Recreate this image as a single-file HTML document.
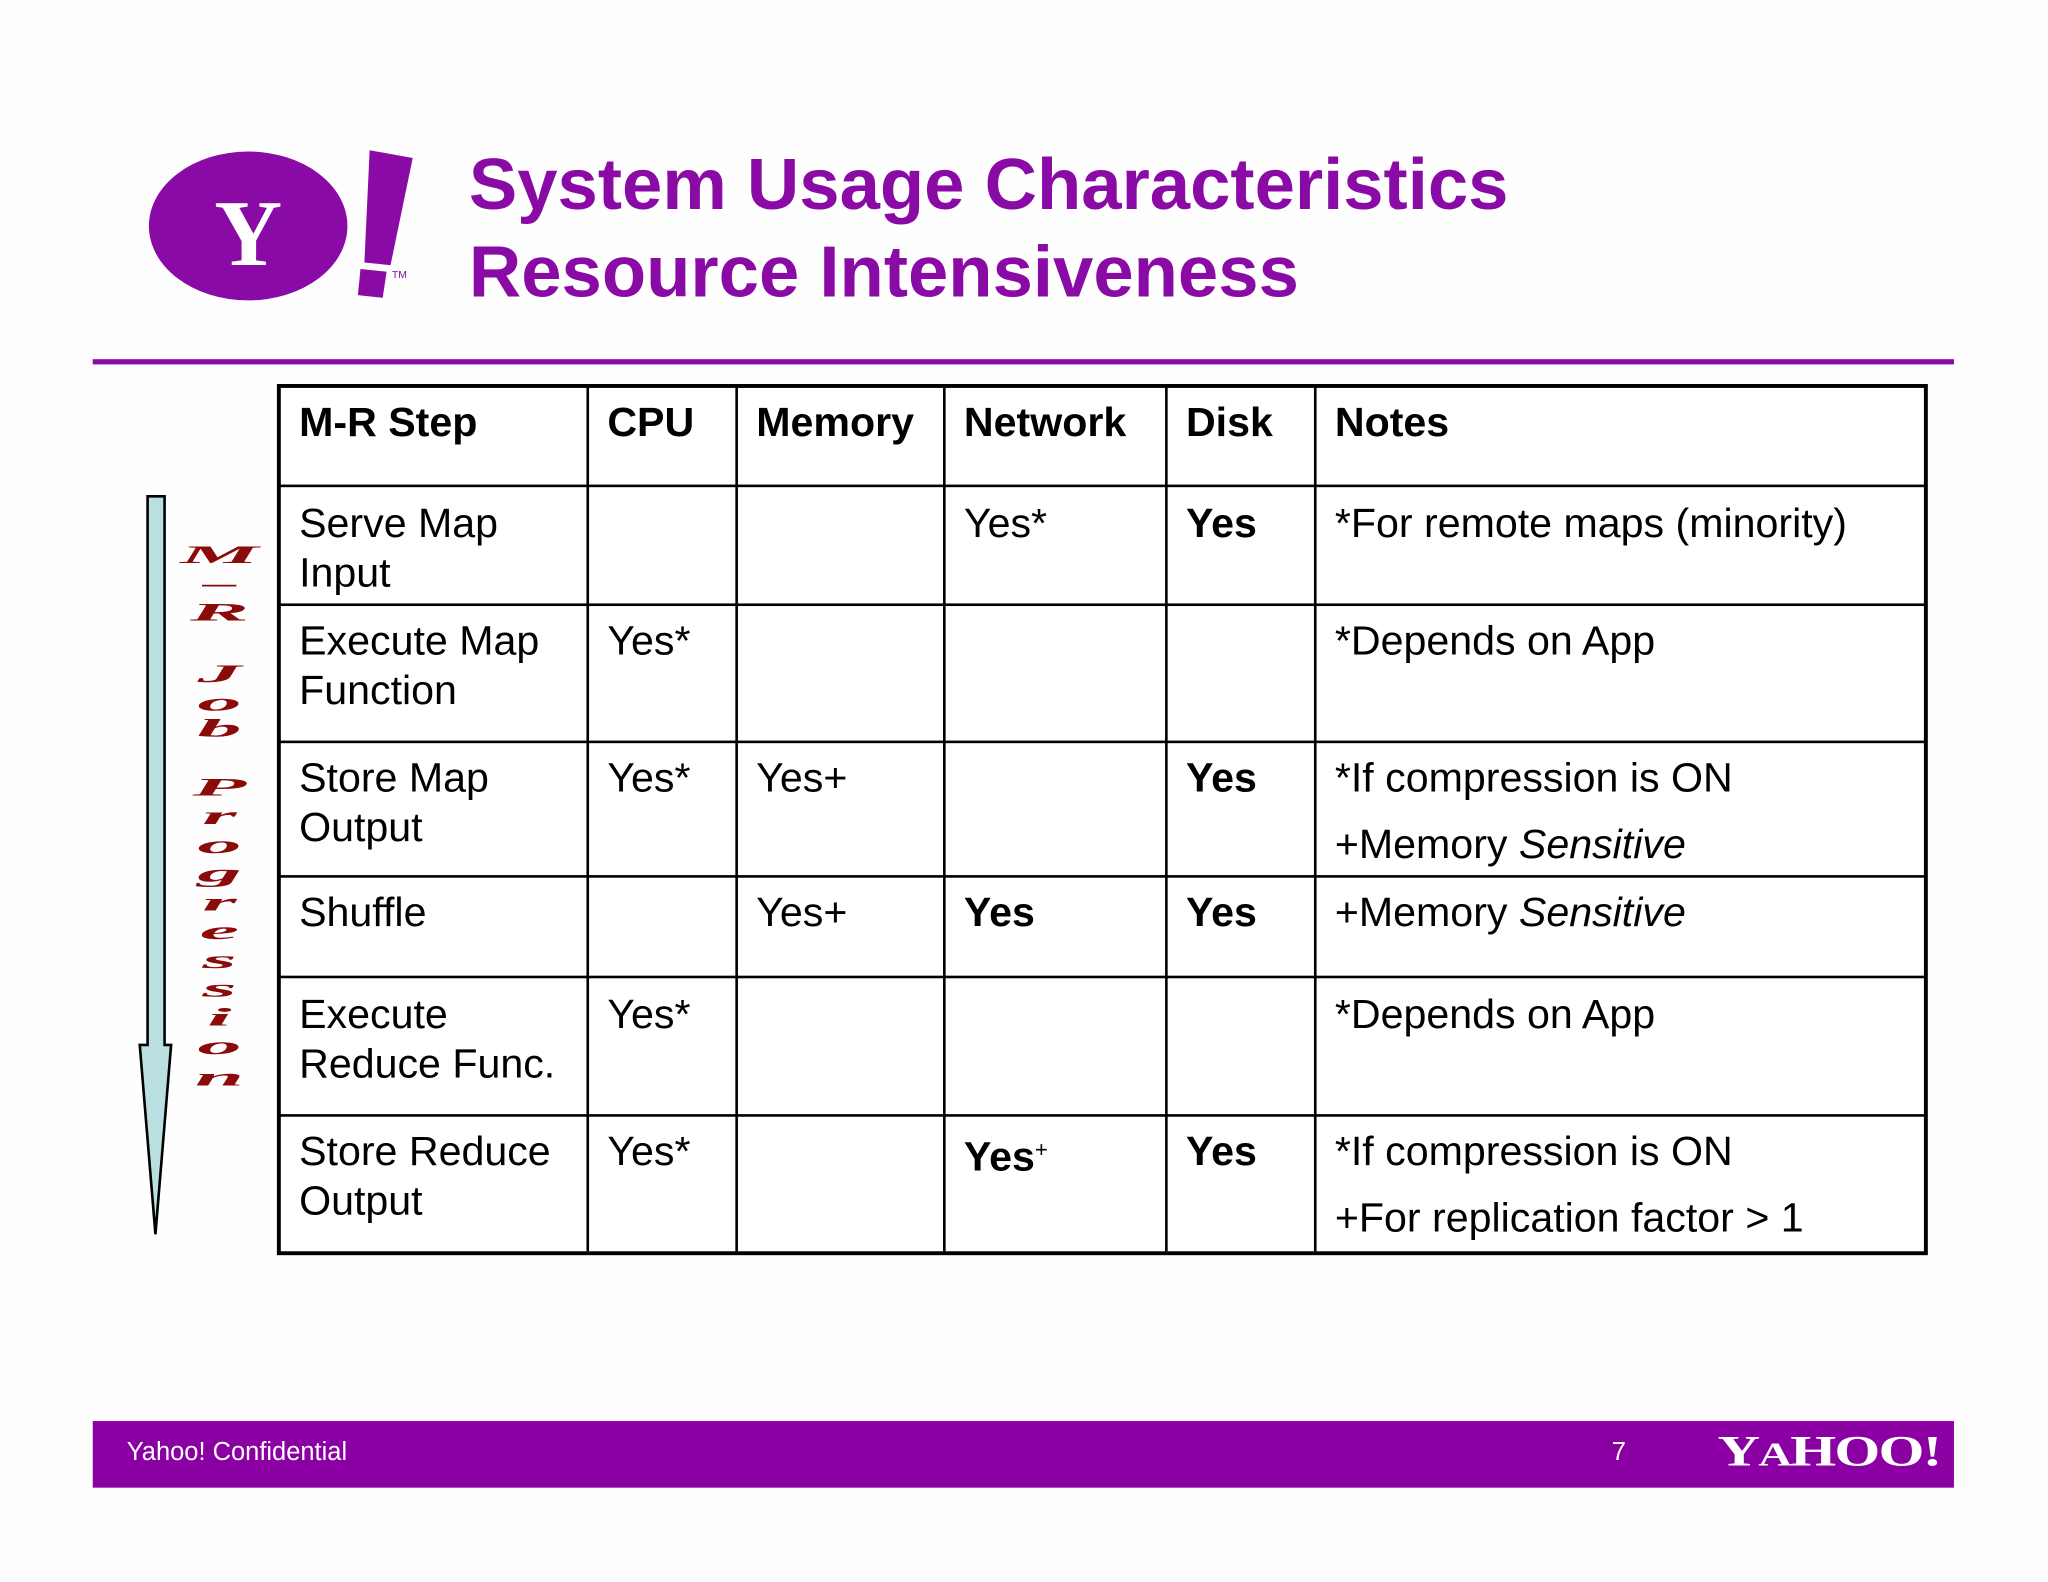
<!DOCTYPE html>
<html><head><meta charset="utf-8"><style>
html,body{margin:0;padding:0;background:#fff;}
#page{position:relative;width:1568px;height:1211px;transform:scale(1.30612);transform-origin:0 0;background:#fefefe;font-family:"Liberation Sans",Arial,sans-serif;overflow:hidden;}
.abs{position:absolute;}
.title{position:absolute;left:359px;color:#8a0aa5;font-weight:bold;font-size:55.5px;line-height:66px;white-space:nowrap;}
.vl{position:absolute;background:#000;width:2px;}
.hl{position:absolute;background:#000;height:2px;}
.cell{position:absolute;font-size:31.5px;line-height:38px;color:#000;white-space:nowrap;}
.b{font-weight:bold;}
.vt{position:absolute;left:140px;width:56px;text-align:center;color:#8b0a0a;font-family:"Liberation Serif",serif;font-style:italic;font-weight:bold;font-size:26px;line-height:26px;transform:scale(2.6,0.75);transform-origin:center;}
</style></head><body>
<div id="page">
  <svg class="abs" style="left:100px;top:100px" width="230" height="140">
    <ellipse cx="90" cy="73" rx="76" ry="57" fill="#8a0aa5"/>
    <text x="90" y="103" text-anchor="middle" font-family="Liberation Serif,serif" font-weight="bold" font-size="72" fill="#fff">Y</text>
    <polygon points="183,15 216,21 199,103 179,101" fill="#8a0aa5"/>
    <polygon points="176,106 196,108 193,128 174,126" fill="#8a0aa5"/>
    <text x="200" y="113" font-size="8" fill="#8a0aa5" font-family="Liberation Sans,sans-serif">TM</text>
  </svg>
  <div class="title" style="top:108px">System Usage Characteristics</div>
  <div class="title" style="top:175px">Resource Intensiveness</div>
  <div class="abs" style="left:71px;top:275px;width:1425px;height:4px;background:#8a0aa5"></div>

  <svg class="abs" style="left:100px;top:370px" width="40" height="590">
    <polygon points="13,10 26,10 26,430 31,430 19,575 7,430 13,430" fill="#b9dfe0" stroke="#000" stroke-width="2"/>
  </svg>
  <div>
    <div class="vt" style="top:412px">M</div>
    <div class="vt" style="top:434px;transform:scale(1,0.75)">—</div>
    <div class="vt" style="top:456px">R</div>
    <div class="vt" style="top:503px">J</div>
    <div class="vt" style="top:525px">o</div>
    <div class="vt" style="top:545px">b</div>
    <div class="vt" style="top:590px">P</div>
    <div class="vt" style="top:612px">r</div>
    <div class="vt" style="top:634px">o</div>
    <div class="vt" style="top:656px">g</div>
    <div class="vt" style="top:678px">r</div>
    <div class="vt" style="top:700px">e</div>
    <div class="vt" style="top:722px">s</div>
    <div class="vt" style="top:744px">s</div>
    <div class="vt" style="top:766px">i</div>
    <div class="vt" style="top:788px">o</div>
    <div class="vt" style="top:812px">n</div>
  </div>

  <div>
    <div class="abs" style="left:212px;top:294px;width:1258px;height:661px;border:3px solid #000;background:#fff"></div>
    <div class="vl" style="left:449px;top:295px;height:663px"></div>
    <div class="vl" style="left:563px;top:295px;height:663px"></div>
    <div class="vl" style="left:722px;top:295px;height:663px"></div>
    <div class="vl" style="left:892px;top:295px;height:663px"></div>
    <div class="vl" style="left:1006px;top:295px;height:663px"></div>
    <div class="hl" style="left:213px;top:371px;width:1260px"></div>
    <div class="hl" style="left:213px;top:462px;width:1260px"></div>
    <div class="hl" style="left:213px;top:567px;width:1260px"></div>
    <div class="hl" style="left:213px;top:670px;width:1260px"></div>
    <div class="hl" style="left:213px;top:747px;width:1260px"></div>
    <div class="hl" style="left:213px;top:853px;width:1260px"></div>

    <div class="cell b" style="left:229px;top:304px">M-R Step</div>
    <div class="cell b" style="left:465px;top:304px">CPU</div>
    <div class="cell b" style="left:579px;top:304px">Memory</div>
    <div class="cell b" style="left:738px;top:304px">Network</div>
    <div class="cell b" style="left:908px;top:304px">Disk</div>
    <div class="cell b" style="left:1022px;top:304px">Notes</div>

    <div class="cell" style="left:229px;top:381px">Serve Map<br>Input</div>
    <div class="cell" style="left:738px;top:381px">Yes*</div>
    <div class="cell b" style="left:908px;top:381px">Yes</div>
    <div class="cell" style="left:1022px;top:381px">*For remote maps (minority)</div>

    <div class="cell" style="left:229px;top:471px">Execute Map<br>Function</div>
    <div class="cell" style="left:465px;top:471px">Yes*</div>
    <div class="cell" style="left:1022px;top:471px">*Depends on App</div>

    <div class="cell" style="left:229px;top:576px">Store Map<br>Output</div>
    <div class="cell" style="left:465px;top:576px">Yes*</div>
    <div class="cell" style="left:579px;top:576px">Yes+</div>
    <div class="cell b" style="left:908px;top:576px">Yes</div>
    <div class="cell" style="left:1022px;top:576px">*If compression is ON</div>
    <div class="cell" style="left:1022px;top:627px">+Memory <i>Sensitive</i></div>

    <div class="cell" style="left:229px;top:679px">Shuffle</div>
    <div class="cell" style="left:579px;top:679px">Yes+</div>
    <div class="cell b" style="left:738px;top:679px">Yes</div>
    <div class="cell b" style="left:908px;top:679px">Yes</div>
    <div class="cell" style="left:1022px;top:679px">+Memory <i>Sensitive</i></div>

    <div class="cell" style="left:229px;top:757px">Execute<br>Reduce Func.</div>
    <div class="cell" style="left:465px;top:757px">Yes*</div>
    <div class="cell" style="left:1022px;top:757px">*Depends on App</div>

    <div class="cell" style="left:229px;top:862px">Store Reduce<br>Output</div>
    <div class="cell" style="left:465px;top:862px">Yes*</div>
    <div class="cell b" style="left:738px;top:862px">Yes<span style="font-size:17px;font-weight:normal;vertical-align:10px">+</span></div>
    <div class="cell b" style="left:908px;top:862px">Yes</div>
    <div class="cell" style="left:1022px;top:862px">*If compression is ON</div>
    <div class="cell" style="left:1022px;top:913px">+For replication factor &gt; 1</div>
  </div>

  <div class="abs" style="left:71px;top:1088px;width:1425px;height:51px;background:#8b00a3">
    <div class="abs" style="left:26px;top:13px;color:#fff;font-size:19.5px">Yahoo! Confidential</div>
    <div class="abs" style="left:1163px;top:13px;color:#fff;font-size:19.5px">7</div>
    <div class="abs" style="left:1244px;top:6px;color:#fff;font-family:'Liberation Serif',serif;font-weight:bold;font-size:33px;letter-spacing:-1px;transform:scaleX(1.37);transform-origin:left">Y<span style="font-size:26px">A</span>HOO!</div>
  </div>
</div>
</body></html>
